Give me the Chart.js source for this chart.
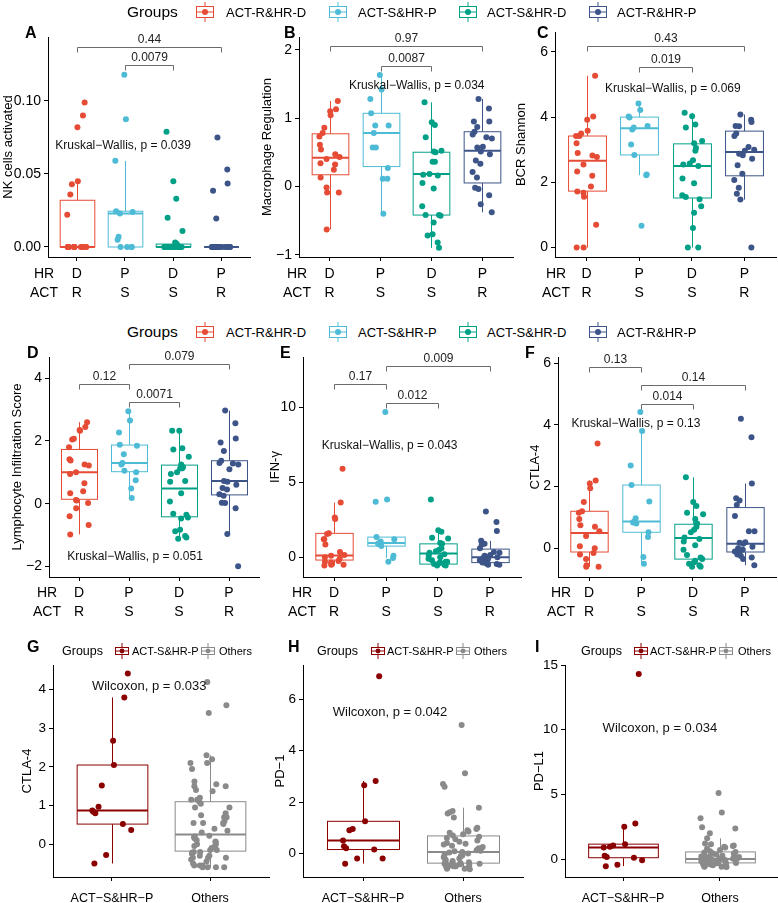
<!DOCTYPE html>
<html>
<head>
<meta charset="utf-8">
<script src="https://cdn.jsdelivr.net/npm/chart.js@4.4.1/dist/chart.umd.min.js"></script>
<style>
  body { margin: 0; background: #fff; width: 778px; height: 903px; position: relative; overflow: hidden;
         font-family: "Liberation Sans", Arial, sans-serif; color: #000; }
  canvas { position: absolute; }
  .t { position: absolute; white-space: nowrap; line-height: 1; transform: translateY(-50%); }
  .ico { position: absolute; transform: translateY(-50%); }
</style>
</head>
<body>
<script>
// groups / axis labels
const groupNames = ['ACT-R&HR-D', 'ACT-S&HR-P', 'ACT-S&HR-D', 'ACT-R&HR-P'];
const hrLabels = ['D', 'P', 'D', 'P'];
const actLabels = ['R', 'S', 'S', 'R'];
const pairNames = ['ACT-S&HR-P', 'Others'];
const pairTickLabels = ['ACT−S&HR−P', 'Others'];

// A - NK cells activated
const nkRD = [0.099, 0.090, 0.082, 0.045, 0.043, 0.036, 0.022, 0, 0, 0, 0, 0, 0, 0, 0, 0, 0, 0, 0, 0, 0];
const nkSP = [0.118, 0.0875, 0.059, 0.0245, 0.024, 0.023, 0.007, 0.005, 0, 0, 0, 0];
const nkSD = [0.079, 0.045, 0.033, 0.020, 0.011, 0.003, 0.002, 0.001, 0, 0, 0, 0, 0, 0, 0, 0, 0, 0, 0, 0, 0, 0, 0, 0, 0];
const nkRP = [0.075, 0.053, 0.0435, 0.0385, 0.0195, 0, 0, 0, 0, 0, 0, 0, 0, 0, 0, 0, 0, 0, 0, 0, 0, 0];
// box stats: [low whisker, q1, median, q3, high whisker]
const nkBox = [[0, 0, 0, 0.032, 0.045], [0, 0, 0.023, 0.0245, 0.059], [0, 0, 0, 0.002, 0.003], [0, 0, 0, 0, 0]];
const nkBrackets = [[1, 4, 0.137, '0.44'], [2, 3, 0.1244, '0.0079']];
const nkTicks = [0, 0.05, 0.10];

// B - Macrophage Regulation
const macRD = [1.25, 1.13, 1.10, 1.04, 0.86, 0.78, 0.73, 0.61, 0.54, 0.47, 0.43, 0.40, 0.34, 0.32, 0.245, 0.13, -0.015, -0.09, -0.09, -0.63];
const macSP = [1.63, 1.42, 1.28, 1.07, 0.89, 0.89, 0.78, 0.57, 0.57, 0.27, 0.11, 0.11, -0.40];
const macSD = [1.23, 0.94, 0.90, 0.72, 0.52, 0.51, 0.50, 0.36, 0.36, 0.18, 0.17, 0.16, 0.05, -0.03, -0.29, -0.42, -0.42, -0.43, -0.53, -0.70, -0.72, -0.82, -0.90];
const macRP = [1.28, 1.14, 0.95, 0.95, 0.87, 0.80, 0.76, 0.72, 0.70, 0.58, 0.57, 0.51, 0.47, 0.38, 0.33, 0.21, 0.13, -0.02, -0.04, -0.13, -0.26, -0.38];
const macBox = [[-0.63, 0.17, 0.42, 0.77, 1.25], [-0.40, 0.29, 0.78, 1.07, 1.63], [-0.90, -0.42, 0.18, 0.50, 1.23], [-0.38, 0.05, 0.52, 0.80, 1.28]];
const macBrackets = [[1, 4, 2.06, '0.97'], [2, 3, 1.76, '0.0087']];
const macTicks = [-1, 0, 1, 2];

// C - BCR Shannon
const bcrRD = [5.27, 4.02, 3.92, 3.58, 3.50, 3.42, 3.42, 3.20, 2.90, 2.82, 2.78, 2.55, 2.33, 2.20, 1.87, 1.72, 1.68, 1.56, 0.70, 0, 0];
const bcrSP = [4.42, 4.22, 4.02, 3.99, 3.73, 3.68, 3.62, 3.16, 2.84, 2.24, 2.22, 0.67];
const bcrSD = [4.13, 4.03, 3.77, 3.68, 3.27, 3.20, 3.05, 2.97, 2.68, 2.58, 2.55, 2.50, 2.12, 1.97, 1.60, 1.55, 1.48, 1.27, 1.07, 0.60, 0, 0];
const bcrRP = [4.08, 3.92, 3.85, 3.73, 3.72, 3.50, 3.42, 3.08, 3.00, 2.97, 2.88, 2.83, 2.72, 2.52, 2.26, 2.07, 1.83, 1.65, 1.47, 0];
const bcrBox = [[0, 1.73, 2.66, 3.42, 5.27], [2.22, 2.84, 3.66, 4.00, 4.42], [0, 1.52, 2.50, 3.18, 4.13], [1.47, 2.20, 2.93, 3.57, 4.08]];
const bcrBrackets = [[1, 4, 6.17, '0.43'], [2, 3, 5.54, '0.019']];
const bcrTicks = [0, 2, 4, 6];

// D - Lymphocyte Infiltration Score
const lymRD = [2.60, 2.45, 2.35, 2.33, 2.07, 2.05, 1.80, 1.42, 1.38, 1.25, 1.22, 1.00, 0.95, 0.65, 0.40, 0.33, 0.12, 0.10, 0.02, -0.15, -0.40, -0.68, -0.98];
const lymSP = [2.95, 2.65, 2.27, 1.88, 1.85, 1.58, 1.30, 1.25, 1.05, 1.00, 0.75, 0.48, 0.18];
const lymSD = [2.33, 2.33, 1.77, 1.73, 1.50, 1.25, 1.17, 1.13, 1.12, 1.00, 0.95, 0.72, 0.70, 0.33, 0.07, -0.32, -0.35, -0.44, -0.47, -0.83, -0.88, -1.03, -1.08, -1.12];
const lymRP = [2.97, 2.57, 2.08, 1.95, 1.68, 1.37, 1.30, 1.28, 1.25, 1.10, 0.72, 0.70, 0.60, 0.50, 0.45, 0.30, 0.25, 0.03, 0.02, -0.15, -0.97, -2.00];
const lymBox = [[-0.98, 0.14, 1.00, 1.73, 2.60], [0.18, 1.02, 1.30, 1.87, 2.95], [-1.12, -0.42, 0.48, 1.23, 2.33], [-0.97, 0.28, 0.72, 1.37, 2.97]];
const lymBrackets = [[1, 2, 3.83, '0.12'], [2, 4, 4.47, '0.079'], [2, 3, 3.26, '0.0071']];
const lymTicks = [-2, 0, 2, 4];

// E - IFN-γ
const ifnRD = [5.90, 3.65, 2.65, 2.55, 1.60, 1.55, 1.20, 1.20, 0.85, 0.35, 0.15, 0.10, 0.00, -0.10, -0.25, -0.30, -0.35, -0.45, -0.50, -0.50, -0.55];
const ifnSP = [9.70, 3.85, 3.70, 1.35, 1.20, 1.05, 0.95, 0.90, 0.75, 0.10, -0.05, -0.30];
const ifnSD = [3.85, 1.80, 1.70, 1.30, 1.25, 0.95, 0.90, 0.60, 0.50, 0.40, 0.30, 0.20, 0.10, 0.00, -0.10, -0.20, -0.30, -0.30, -0.35, -0.40, -0.45, -0.50, -0.55, -0.55];
const ifnRP = [3.05, 2.35, 1.75, 1.10, 0.90, 0.85, 0.60, 0.35, 0.30, 0.15, 0.10, 0.00, 0.00, -0.05, -0.15, -0.20, -0.30, -0.35, -0.40, -0.45, -0.50, -0.50];
const ifnBox = [[-0.55, -0.18, 0.12, 1.60, 3.65], [-0.05, 0.75, 0.95, 1.35, 1.35], [-0.55, -0.45, 0.25, 0.90, 1.80], [-0.50, -0.35, 0.00, 0.55, 1.10]];
const ifnBrackets = [[1, 2, 11.53, '0.17'], [2, 4, 12.78, '0.009'], [2, 3, 10.27, '0.012']];
const ifnTicks = [0, 5, 10];

// F - CTLA-4 (four groups)
const ctlaRD = [3.40, 2.20, 2.10, 1.95, 1.50, 1.20, 1.15, 0.95, 0.75, 0.70, 0.55, 0.40, 0.07, 0.00, -0.15, -0.20, -0.35, -0.55, -0.60, -0.60];
const ctlaSP = [4.42, 3.80, 2.68, 2.05, 1.52, 0.97, 0.87, 0.84, 0.80, 0.52, 0.37, -0.28, -0.50];
const ctlaSD = [2.30, 1.50, 1.37, 1.15, 1.10, 0.95, 0.80, 0.70, 0.60, 0.52, 0.35, 0.30, 0.22, 0.10, -0.05, -0.22, -0.30, -0.35, -0.40, -0.45, -0.50, -0.55, -0.60, -0.60];
const ctlaRP = [4.20, 3.60, 2.10, 1.62, 1.55, 1.40, 1.05, 0.55, 0.55, 0.20, 0.18, 0.15, 0.05, 0.00, -0.05, -0.10, -0.15, -0.20, -0.25, -0.30, -0.35, -0.55];
const ctlaBox = [[-0.60, -0.12, 0.50, 1.20, 2.20], [-0.50, 0.52, 0.87, 2.05, 3.80], [-0.60, -0.35, 0.33, 0.78, 2.30], [-0.55, -0.12, 0.15, 1.32, 2.10]];
const ctlaBrackets = [[1, 2, 5.88, '0.13'], [2, 4, 5.28, '0.14'], [2, 3, 4.68, '0.014']];
const ctlaTicks = [0, 2, 4, 6];

// G - CTLA-4, ACT-S&HR-P vs the other three groups
const ctlaOthers = [...ctlaRD, ...ctlaSD, ...ctlaRP];
const ctlaPairBox = [[-0.50, 0.52, 0.87, 2.05, 3.80], [-0.60, -0.18, 0.25, 1.10, 2.30]];
const ctlaPairTicks = [0, 1, 2, 3, 4];

// H - PD-1
const pd1SP = [6.90, 2.82, 2.65, 1.25, 0.95, 0.90, 0.50, 0.28, 0.20, 0.15, -0.20, -0.20, -0.40];
const pd1Others = [5.00, 3.12, 2.70, 2.60, 1.78, 1.65, 1.60, 1.55, 1.40, 1.00, 0.95, 0.90, 0.85, 0.80, 0.75, 0.70,
  0.65, 0.60, 0.55, 0.50, 0.45, 0.40, 0.38, 0.35, 0.30, 0.25, 0.20, 0.18, 0.15, 0.12, 0.10, 0.08, 0.05,
  0.03, 0.00, -0.05, -0.08, -0.10, -0.15, -0.20, -0.25, -0.30, -0.35, -0.38, -0.40, -0.40, -0.42, -0.45, -0.45,
  -0.48, -0.50, -0.50, -0.50, -0.52, -0.55, -0.55, -0.55, -0.58, -0.60, -0.60, -0.62, -0.45, -0.40, -0.35, -0.30, -0.50];
const pd1Box = [[-0.40, 0.15, 0.50, 1.25, 2.82], [-0.60, -0.38, 0.05, 0.68, 1.78]];
const pd1Ticks = [0, 2, 4, 6];

// I - PD-L1
const pdl1SP = [14.30, 2.75, 2.50, 1.15, 1.05, 0.95, 0.90, 0.25, 0.15, 0.10, -0.10, -0.45, -0.55];
const pdl1Others = [5.10, 3.60, 3.15, 2.45, 2.35, 2.00, 1.60, 1.20, 1.15, 1.05, 1.00, 0.95, 0.90, 0.80, 0.70, 0.60,
  0.55, 0.50, 0.45, 0.40, 0.35, 0.30, 0.25, 0.20, 0.18, 0.15, 0.10, 0.08, 0.05, 0.03, 0.02, 0.01, 0.00,
  -0.02, -0.05, -0.08, -0.10, -0.12, -0.15, -0.18, -0.20, -0.22, -0.25, -0.28, -0.30, -0.30, -0.32, -0.35, -0.38,
  -0.40, -0.42, -0.45, -0.48, -0.50, -0.52, -0.55, -0.55, -0.58, -0.60, -0.60, -0.62, -0.25, -0.15, -0.05, -0.35, -0.45];
const pdl1Box = [[-0.55, 0.10, 0.90, 1.15, 2.50], [-0.60, -0.30, 0.00, 0.55, 1.60]];
const pdl1Ticks = [0, 5, 10, 15];

const npg = ['#E64B35', '#4DBBD5', '#00A087', '#3C5488'];
const pairColors = ['#8B0000', '#8A8A8A'];
const FONT = '"Liberation Sans", Arial, sans-serif';

Chart.defaults.font.family = FONT;
Chart.defaults.color = '#000';

// small deterministic horizontal spread for the dots
function jitter(g, i) {
  const s = Math.sin(g * 78.233 + i * 12.9898 + 1.3) * 43758.5453;
  return (s - Math.floor(s) - 0.5) * 0.4;
}

function minus(s) { return String(s).replace('-', '−'); }

function addText(txt, x, y, size, bold) {
  const d = document.createElement('div');
  d.className = 't';
  d.textContent = txt;
  d.style.left = x + 'px';
  d.style.top = y + 'px';
  d.style.fontSize = size + 'px';
  if (bold) d.style.fontWeight = 'bold';
  document.body.appendChild(d);
}

function addIcon(color, x, y, w, h) {
  const m = Math.round(h * 0.22);
  const svg = `<svg width="${w}" height="${h}" xmlns="http://www.w3.org/2000/svg">
    <line x1="${w / 2}" y1="0" x2="${w / 2}" y2="${m}" stroke="${color}" stroke-width="1"/>
    <line x1="${w / 2}" y1="${h - m}" x2="${w / 2}" y2="${h}" stroke="${color}" stroke-width="1"/>
    <rect x="1.5" y="${m + 0.5}" width="${w - 3}" height="${h - 2 * m - 1}" fill="#fff" stroke="${color}" stroke-width="1"/>
    <line x1="1.5" y1="${h / 2}" x2="${w - 1.5}" y2="${h / 2}" stroke="${color}" stroke-width="1"/>
    <circle cx="${w / 2}" cy="${h / 2}" r="${h * 0.15}" fill="${color}"/></svg>`;
  const d = document.createElement('div');
  d.className = 'ico';
  d.style.left = x + 'px';
  d.style.top = y + 'px';
  d.style.height = h + 'px';
  d.innerHTML = svg;
  document.body.appendChild(d);
}

function drawPanel(cfg) {
  const n = cfg.groups.length;
  const twoRow = n === 4;
  const padTop = 10;
  const canvasLeft = Math.round(cfg.titleX - 8);
  const xAxisH = twoRow ? 48 : 26;
  const w = Math.round(cfg.right - canvasLeft + 3);
  const h = cfg.bottom - cfg.top + padTop + xAxisH;
  const cv = document.createElement('canvas');
  cv.width = w; cv.height = h;
  cv.style.left = canvasLeft + 'px';
  cv.style.top = (cfg.top - padTop) + 'px';
  document.body.appendChild(cv);

  const xTickSize = twoRow ? 14 : 12.5;
  const yTickSize = twoRow ? 14 : 13.5;
  const noteSize = twoRow ? 12 : 13;
  const xLabels = twoRow ? hrLabels.map((v, i) => [v, actLabels[i]]) : pairTickLabels;

  const datasets = cfg.groups.map((vals, g) => ({
    data: vals.map((v, i) => ({ x: g + 1 + jitter(g, i), y: v })),
    backgroundColor: cfg.colors[g],
    borderWidth: 0,
    pointRadius: 3,
    pointHoverRadius: 3
  }));

  const layer = {
    id: 'layer' + cfg.id,
    beforeDatasetsDraw(chart) {
      const { ctx, scales: { x, y } } = chart;
      const half = (x.getPixelForValue(1.36) - x.getPixelForValue(1));
      ctx.save();
      cfg.boxes.forEach((b, g) => {
        const cx = Math.round(x.getPixelForValue(g + 1)) + 0.5;
        const [lo, q1, med, q3, hi] = b.map(v => y.getPixelForValue(v));
        ctx.strokeStyle = cfg.colors[g];
        ctx.lineWidth = 1;
        ctx.beginPath();
        ctx.moveTo(cx, hi); ctx.lineTo(cx, q3);
        ctx.moveTo(cx, q1); ctx.lineTo(cx, lo);
        ctx.stroke();
        ctx.fillStyle = '#fff';
        ctx.fillRect(cx - half, q3, half * 2, q1 - q3);
        ctx.strokeRect(cx - half, q3, half * 2, q1 - q3);
        ctx.lineWidth = 2;
        ctx.beginPath();
        ctx.moveTo(cx - half, med); ctx.lineTo(cx + half, med);
        ctx.stroke();
      });
      ctx.restore();
    },
    afterDatasetsDraw(chart) {
      const { ctx, scales: { x, y } } = chart;
      ctx.save();
      ctx.textAlign = 'center';
      ctx.textBaseline = 'middle';
      (cfg.brackets || []).forEach(([a, b, yv, label]) => {
        const x1 = Math.round(x.getPixelForValue(a)) + 0.5;
        const x2 = Math.round(x.getPixelForValue(b)) + 0.5;
        const yy = Math.round(y.getPixelForValue(yv)) + 0.5;
        ctx.strokeStyle = '#6b6b6b';
        ctx.lineWidth = 1;
        ctx.beginPath();
        ctx.moveTo(x1, yy + 5); ctx.lineTo(x1, yy); ctx.lineTo(x2, yy); ctx.lineTo(x2, yy + 5);
        ctx.stroke();
        ctx.fillStyle = '#222';
        ctx.font = '12px ' + FONT;
        ctx.fillText(label, (x1 + x2) / 2, yy - 8);
      });
      const [txt, nx, ny] = cfg.note;
      ctx.fillStyle = '#111';
      ctx.font = noteSize + 'px ' + FONT;
      ctx.fillText(txt, x.getPixelForValue(nx), y.getPixelForValue(ny));
      ctx.restore();
    },
    afterDraw(chart) {
      if (!twoRow) return;
      const { ctx, scales: { x } } = chart;
      ctx.save();
      ctx.fillStyle = '#000';
      ctx.font = xTickSize + 'px ' + FONT;
      ctx.textAlign = 'center';
      ctx.textBaseline = 'middle';
      const y1 = x.top + cfg.xPad + 4 + 9.5;
      ctx.fillText('HR', cfg.rowX - canvasLeft, y1);
      ctx.fillText('ACT', cfg.rowX - canvasLeft, y1 + 19);
      ctx.restore();
    }
  };

  new Chart(cv, {
    type: 'scatter',
    data: { datasets },
    options: {
      responsive: false,
      animation: false,
      events: [],
      layout: { padding: { top: padTop, right: 3, left: 0, bottom: 0 } },
      plugins: { legend: { display: false }, tooltip: { enabled: false } },
      scales: {
        x: {
          type: 'linear',
          min: 0.4,
          max: n + 0.6,
          afterBuildTicks: s => { s.ticks = cfg.groups.map((_, i) => ({ value: i + 1 })); },
          afterFit: s => { s.height = xAxisH; s.paddingLeft = 0; s.paddingRight = 0; },
          ticks: {
            autoSkip: false,
            maxRotation: 0,
            padding: cfg.xPad,
            font: { size: xTickSize, lineHeight: '19px' },
            color: '#000',
            callback: (v, i) => xLabels[i]
          },
          grid: { display: true, drawOnChartArea: false, tickLength: 4, color: '#000' },
          border: { display: true, color: '#000', width: 1 }
        },
        y: {
          min: cfg.yMin,
          max: cfg.yMax,
          afterBuildTicks: s => { s.ticks = cfg.yTicks.map(v => ({ value: v })); },
          afterFit: s => { s.width = cfg.axisX - canvasLeft; s.paddingTop = 0; s.paddingBottom = 0; },
          ticks: {
            padding: 3,
            font: { size: yTickSize },
            color: '#000',
            callback: v => minus(Number(v).toFixed(cfg.dec || 0))
          },
          grid: { display: true, drawOnChartArea: false, tickLength: 4, color: '#000' },
          border: { display: true, color: '#000', width: 1 },
          title: {
            display: true,
            text: cfg.title,
            color: '#000',
            font: { size: 13 },
            padding: { top: 0, bottom: 0 }
          }
        }
      }
    },
    plugins: [layer]
  });

  addText(cfg.id, cfg.letter[0], cfg.letter[1], 16, true);
}

const four = [
  { id: 'A', title: 'NK cells activated', groups: [nkRD, nkSP, nkSD, nkRP], boxes: nkBox, brackets: nkBrackets, yTicks: nkTicks, dec: 2,
    note: ['Kruskal−Wallis, p = 0.039', 1.96, 0.0694], yMin: -0.00685, yMax: 0.1438,
    axisX: 48, right: 250, top: 37, bottom: 257, titleX: 9, rowX: 44, xPad: 3.5, letter: [25, 33] },
  { id: 'B', title: 'Macrophage Regulation', groups: [macRD, macSP, macSD, macRP], boxes: macBox, brackets: macBrackets, yTicks: macTicks,
    note: ['Kruskal−Wallis, p = 0.034', 2.71, 1.48], yMin: -1.034, yMax: 2.187,
    axisX: 299, right: 513, top: 37, bottom: 257, titleX: 268, rowX: 297, xPad: 3.5, letter: [284, 33] },
  { id: 'C', title: 'BCR Shannon', groups: [bcrRD, bcrSP, bcrSD, bcrRP], boxes: bcrBox, brackets: bcrBrackets, yTicks: bcrTicks,
    note: ['Kruskal−Wallis, p = 0.069', 2.64, 4.87], yMin: -0.29, yMax: 6.61,
    axisX: 555, right: 776, top: 32, bottom: 257, titleX: 522, rowX: 556, xPad: 3.5, letter: [537, 33] },
  { id: 'D', title: 'Lymphocyte Infiltration Score', groups: [lymRD, lymSP, lymSD, lymRP], boxes: lymBox, brackets: lymBrackets, yTicks: lymTicks,
    note: ['Kruskal−Wallis, p = 0.051', 2.12, -1.69], yMin: -2.34, yMax: 4.68,
    axisX: 49, right: 259, top: 357, bottom: 577, titleX: 18, rowX: 47, xPad: 2.5, letter: [27, 353] },
  { id: 'E', title: 'IFN-γ', groups: [ifnRD, ifnSP, ifnSD, ifnRP], boxes: ifnBox, brackets: ifnBrackets, yTicks: ifnTicks,
    note: ['Kruskal−Wallis, p = 0.043', 2.07, 7.44], yMin: -1.31, yMax: 13.36,
    axisX: 303, right: 521, top: 357, bottom: 577, titleX: 276, rowX: 302, xPad: 2.5, letter: [280, 353] },
  { id: 'F', title: 'CTLA-4', groups: [ctlaRD, ctlaSP, ctlaSD, ctlaRP], boxes: ctlaBox, brackets: ctlaBrackets, yTicks: ctlaTicks,
    note: ['Kruskal−Wallis, p = 0.13', 1.9, 4.03], yMin: -0.93, yMax: 6.2,
    axisX: 558, right: 776, top: 357, bottom: 577, titleX: 536, rowX: 561, xPad: 2.5, letter: [525, 353] }
];
four.forEach(p => { p.colors = npg; drawPanel(p); });

const pairs = [
  { id: 'G', title: 'CTLA-4', groups: [ctlaSP, ctlaOthers], boxes: ctlaPairBox, yTicks: ctlaPairTicks,
    note: ['Wilcoxon, p = 0.033', 1.38, 4.09], yMin: -0.85, yMax: 4.64,
    axisX: 53, right: 269, top: 665, bottom: 877, titleX: 28, xPad: 8, letter: [27, 647] },
  { id: 'H', title: 'PD−1', groups: [pd1SP, pd1Others], boxes: pd1Box, yTicks: pd1Ticks,
    note: ['Wilcoxon, p = 0.042', 1.27, 5.48], yMin: -0.92, yMax: 7.34,
    axisX: 303, right: 523, top: 665, bottom: 877, titleX: 281, xPad: 8, letter: [288, 647] },
  { id: 'I', title: 'PD−L1', groups: [pdl1SP, pdl1Others], boxes: pdl1Box, yTicks: pdl1Ticks,
    note: ['Wilcoxon, p = 0.034', 1.38, 10.1], yMin: -1.39, yMax: 15.0,
    axisX: 565, right: 778, top: 665, bottom: 877, titleX: 540, xPad: 8, letter: [535, 647] }
];
pairs.forEach(p => { p.colors = pairColors; drawPanel(p); });

// shared legends, rows 1 and 2
const legIconX = [195, 328, 458, 588];
const legTextX = [226, 358, 487, 617];
[12, 332].forEach(y => {
  addText('Groups', 127, y, 15.5);
  groupNames.forEach((g, i) => {
    addIcon(npg[i], legIconX[i], y, 20, 20);
    addText(g, legTextX[i], y, 13);
  });
});

// legends of the two-group panels
[[62, 114, 132, 200, 219], [317, 370, 387, 455, 474], [581, 633, 650, 718, 738]].forEach(([gx, i1, t1, i2, t2]) => {
  addText('Groups', gx, 651, 12.5);
  addIcon(pairColors[0], i1, 651, 16, 16);
  addText(pairNames[0], t1, 651, 11);
  addIcon(pairColors[1], i2, 651, 16, 16);
  addText(pairNames[1], t2, 651, 11);
});
</script>
</body>
</html>
